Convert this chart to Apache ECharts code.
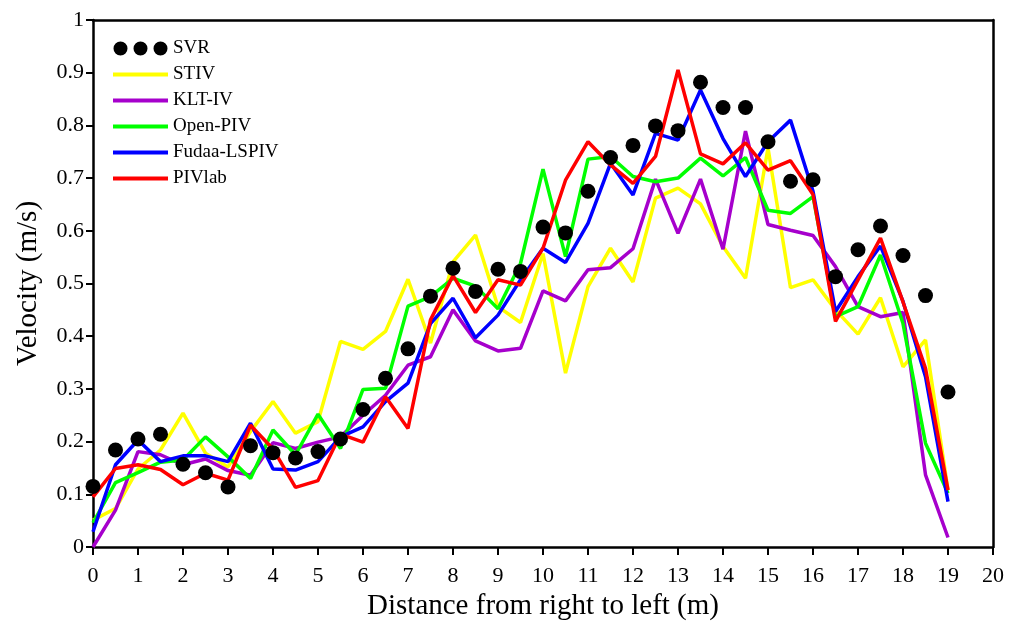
<!DOCTYPE html>
<html>
<head>
<meta charset="utf-8">
<script src="https://cdn.jsdelivr.net/npm/echarts@6/dist/echarts.min.js"></script>
<style>html,body{margin:0;padding:0;background:#fff;}#c{width:1019px;height:626px;}</style>
</head>
<body>
<div id="c"></div>
<script>
const distance = [0,0.5,1,1.5,2,2.5,3,3.5,4,4.5,5,5.5,6,6.5,7,7.5,8,8.5,9,9.5,10,10.5,11,11.5,12,12.5,13,13.5,14,14.5,15,15.5,16,16.5,17,17.5,18,18.5,19];
const svr = [0.115,0.184,0.205,0.214,0.157,0.141,0.114,0.192,0.179,0.169,0.181,0.205,0.261,0.320,0.376,0.476,0.529,0.485,0.527,0.523,0.607,0.596,0.675,0.739,0.762,0.799,0.790,0.882,0.834,0.834,0.769,0.694,0.697,0.513,0.564,0.609,0.553,0.477,0.294];
const stiv = [0.051,0.073,0.148,0.184,0.254,0.178,0.152,0.219,0.276,0.216,0.238,0.390,0.375,0.409,0.508,0.387,0.541,0.592,0.456,0.426,0.557,0.330,0.494,0.567,0.503,0.662,0.681,0.651,0.570,0.510,0.757,0.492,0.507,0.450,0.404,0.473,0.342,0.393,0.108];
const kltiv = [0.000,0.070,0.181,0.175,0.156,0.167,0.145,0.136,0.198,0.187,0.199,0.209,0.250,0.288,0.345,0.361,0.450,0.391,0.372,0.377,0.486,0.467,0.526,0.530,0.566,0.698,0.595,0.698,0.565,0.789,0.612,0.601,0.591,0.532,0.456,0.437,0.445,0.137,0.018];
const openpiv = [0.046,0.122,0.141,0.161,0.165,0.209,0.171,0.130,0.222,0.175,0.252,0.187,0.299,0.301,0.457,0.475,0.510,0.495,0.452,0.538,0.717,0.551,0.736,0.741,0.703,0.693,0.700,0.738,0.704,0.739,0.639,0.633,0.665,0.437,0.456,0.554,0.424,0.197,0.102];
const fudaa = [0.029,0.156,0.203,0.162,0.173,0.173,0.162,0.235,0.148,0.146,0.162,0.209,0.228,0.276,0.311,0.424,0.472,0.397,0.440,0.507,0.567,0.540,0.614,0.728,0.668,0.785,0.772,0.867,0.775,0.703,0.769,0.810,0.675,0.447,0.513,0.571,0.466,0.323,0.086];
const pivlab = [0.095,0.149,0.156,0.147,0.118,0.140,0.127,0.231,0.186,0.113,0.126,0.214,0.199,0.285,0.225,0.431,0.515,0.445,0.507,0.497,0.567,0.696,0.769,0.725,0.690,0.741,0.905,0.746,0.727,0.767,0.715,0.733,0.669,0.428,0.507,0.586,0.465,0.339,0.108];
const xTicks = {min: 0, max: 20, interval: 1};
const yTicks = {min: 0, max: 1, interval: 0.1};

const font = "'Liberation Serif', 'Times New Roman', serif";
const pair = arr => distance.map((d, i) => [d, arr[i]]);
const threeDots = 'path://M0,7a7,7 0 1,0 14,0a7,7 0 1,0 -14,0zM20,7a7,7 0 1,0 14,0a7,7 0 1,0 -14,0zM40,7a7,7 0 1,0 14,0a7,7 0 1,0 -14,0z';

function lineSeries(name, data, color) {
  return {
    name: name, type: 'line', data: pair(data), symbol: 'none',
    lineStyle: {color: color, width: 3.5}, itemStyle: {color: color},
    animation: false, z: 2
  };
}
const hiddenSym = {opacity: 0};

const chart = echarts.init(document.getElementById('c'), null, {renderer: 'canvas'});
chart.setOption({
  backgroundColor: '#fff',
  animation: false,
  grid: {left: 93, right: 26, top: 20, bottom: 79},
  legend: {
    left: 106, top: 34, orient: 'vertical', itemWidth: 55, itemHeight: 14, itemGap: 7,
    selectedMode: false,
    lineStyle: {width: 4},
    textStyle: {fontFamily: font, fontSize: 19, color: '#000'},
    data: [
      {name: 'SVR', icon: threeDots, itemStyle: {color: '#000', opacity: 1}},
      {name: 'STIV', itemStyle: hiddenSym},
      {name: 'KLT-IV', itemStyle: hiddenSym},
      {name: 'Open-PIV', itemStyle: hiddenSym},
      {name: 'Fudaa-LSPIV', itemStyle: hiddenSym},
      {name: 'PIVlab', itemStyle: hiddenSym}
    ]
  },
  xAxis: [{
    type: 'value', min: xTicks.min, max: xTicks.max, interval: xTicks.interval,
    name: 'Distance from right to left (m)', nameLocation: 'middle', nameGap: 45,
    nameTextStyle: {fontFamily: font, fontSize: 29, color: '#000'},
    axisLine: {show: true, onZero: false, lineStyle: {color: '#000', width: 2.5}},
    axisTick: {show: true, inside: false, length: 8, lineStyle: {color: '#000', width: 2}},
    axisLabel: {fontFamily: font, fontSize: 22, color: '#000', margin: 18},
    splitLine: {show: false}
  }, {
    type: 'value', position: 'top', min: xTicks.min, max: xTicks.max,
    axisLine: {show: true, onZero: false, lineStyle: {color: '#000', width: 2.5}},
    axisTick: {show: false}, axisLabel: {show: false}, splitLine: {show: false}
  }],
  yAxis: [{
    type: 'value', min: yTicks.min, max: yTicks.max, interval: yTicks.interval,
    name: 'Velocity (m/s)', nameLocation: 'middle', nameGap: 50,
    nameTextStyle: {fontFamily: font, fontSize: 29, color: '#000'},
    axisLine: {show: true, onZero: false, lineStyle: {color: '#000', width: 2.5}},
    axisTick: {show: true, inside: false, length: 7, lineStyle: {color: '#000', width: 2}},
    axisLabel: {fontFamily: font, fontSize: 22, color: '#000', margin: 9,
      formatter: v => (Math.round(v * 10) / 10).toString()},
    splitLine: {show: false}
  }, {
    type: 'value', position: 'right', min: yTicks.min, max: yTicks.max,
    axisLine: {show: true, onZero: false, lineStyle: {color: '#000', width: 2.5}},
    axisTick: {show: false}, axisLabel: {show: false}, splitLine: {show: false}
  }],
  series: [
    {name: 'SVR', type: 'scatter', data: pair(svr), symbol: 'circle', symbolSize: 15,
     itemStyle: {color: '#000', opacity: 1}, z: 5, animation: false},
    lineSeries('STIV', stiv, '#FFFF00'),
    lineSeries('KLT-IV', kltiv, '#A600CC'),
    lineSeries('Open-PIV', openpiv, '#00FF00'),
    lineSeries('Fudaa-LSPIV', fudaa, '#0000FF'),
    lineSeries('PIVlab', pivlab, '#FF0000')
  ]
});
</script>
</body>
</html>
